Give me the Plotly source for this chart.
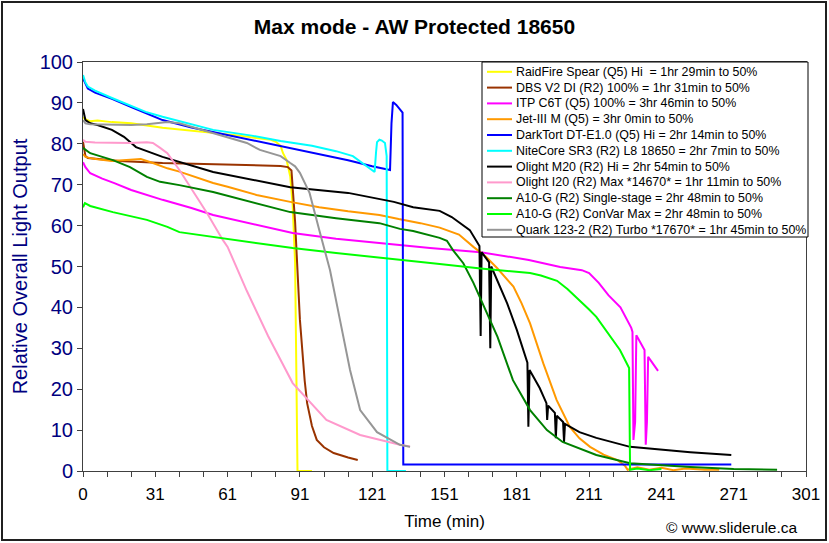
import plotly.graph_objects as go

# ---------------- data (minutes, relative output) ----------------
names = [
    "RaidFire Spear (Q5) Hi  = 1hr 29min to 50%",
    "DBS V2 DI (R2) 100% = 1hr 31min to 50%",
    "ITP C6T (Q5) 100% = 3hr 46min to 50%",
    "Jet-III M (Q5) = 3hr 0min to 50%",
    "DarkTort DT-E1.0 (Q5) Hi = 2hr 14min to 50%",
    "NiteCore SR3 (R2) L8 18650 = 2hr 7min to 50%",
    "Olight M20 (R2) Hi = 2hr 54min to 50%",
    "Olight I20 (R2) Max *14670* = 1hr 11min to 50%",
    "A10-G (R2) Single-stage = 2hr 48min to 50%",
    "A10-G (R2) ConVar Max = 2hr 48min to 50%",
    "Quark 123-2 (R2) Turbo *17670* = 1hr 45min to 50%",
]
colors = ["#FFFF00", "#993300", "#FF00FF", "#FF9900", "#0000FF", "#00FFFF",
          "#000000", "#FF99CC", "#008000", "#00FF00", "#969696"]

raidfire_t = [0, 1, 3, 6, 12, 20, 33, 45, 54, 65, 72, 78, 80, 82, 83, 84.5, 86, 87, 88, 88.5, 89, 95]
raidfire_y = [86.5, 86, 85.5, 85.7, 85.3, 85, 83.9, 83.2, 82.6, 82, 81.4, 81, 80.5, 79.5, 77.7, 76, 72, 65, 51, 25, 0, 0]

dbs_t = [0, 0.5, 1, 2, 5, 15, 33, 54, 70, 82, 85, 86.5, 88, 90, 92, 93, 95, 97, 100, 104, 110, 114]
dbs_y = [80.5, 79, 77, 76.5, 76.3, 75.8, 75.3, 75, 74.8, 74.6, 74.3, 73.5, 61, 37, 22, 16.6, 11, 7.6, 5.8, 4.4, 3.3, 2.7]

itp_t = [0, 1, 3, 8, 13, 20, 33, 45, 54, 70, 87, 105, 129, 144, 165, 185, 198, 207, 210, 214, 218, 223,
         227.5, 228, 228.4, 229.1, 229.6, 233, 233.5, 234, 234.5, 238.6]
itp_y = [75.5, 74.3, 72.8, 71.5, 70.4, 68.7, 66.3, 64.3, 62.6, 60.5, 58.2, 56.8, 55.3, 54.5, 53.5, 51.6, 49.9, 49.1, 48.4, 46, 43, 40,
         35, 34, 7.6, 12, 33.2, 29.6, 6.4, 12, 27.9, 24.5]

jet_t = [0, 1, 3, 6, 12, 18, 24, 29, 35, 40, 54, 60, 72, 86, 98, 110, 123, 131, 140, 148, 151, 156, 162, 167, 172,
         178.6, 182, 185.5, 191, 196.5, 202, 206, 210.4, 216, 222, 225, 226, 230, 235, 240, 245, 250, 258, 264]
jet_y = [77.5, 76.8, 76.5, 76.2, 75.8, 76, 76.3, 75.3, 74, 73.2, 70.4, 69.5, 67.5, 65.8, 64.5, 63.5, 62.6, 61.6, 60.6, 59.5, 58.9, 57.8, 54.8, 52.5, 49.5,
         45.1, 41, 36.1, 26.3, 17.4, 10.8, 8, 5.9, 4, 2.6, 1.2, 0.3, 0.9, 0.3, 0.8, 0.2, 0.6, 0.3, 0.3]

darktort_t = [0, 1, 2, 5, 12, 20, 26, 33, 45, 54, 70, 82, 95, 110, 120, 127.4, 128, 128.6, 130, 131.5, 132.6, 132.9, 150, 200, 269]
darktort_y = [96, 94.5, 93.5, 92.5, 91, 89, 87.5, 85.8, 84, 82.9, 81, 79.5, 78, 76, 74.5, 73.6, 85, 90.2, 89.5, 88.5, 87.6, 1.6, 1.6, 1.6, 1.6]

nitecore_t = [0, 1, 2, 5, 12, 20, 26, 33, 45, 54, 70, 82, 95, 105, 112, 116, 121, 121.6, 122, 123, 124, 125.3, 126, 126.3, 134]
nitecore_y = [96.8, 95, 94, 93, 91.2, 89.3, 87.8, 86.6, 84.7, 83.4, 82, 80.7, 79.5, 78.2, 77, 75.2, 73.1, 78, 80.4, 81, 80.8, 80.2, 77, 0, 0]

m20_t = [0, 1, 3, 6, 12, 17, 22, 33, 54, 72, 86, 110, 129, 137, 148, 153, 157, 160.5, 164.5, 165, 165.4, 168.5, 169, 169.4,
         176, 180, 184.4, 184.8, 185.3, 189.5, 192.3, 192.6, 193, 195.8, 196.2, 196.6, 199.2, 199.6, 200, 206, 213, 227, 252, 269]
m20_y = [88.5, 85.8, 85, 84.6, 83.4, 81.7, 79.2, 76.8, 73.1, 71.1, 69.4, 68, 65.8, 64.5, 63.6, 62.1, 60.5, 58.9, 55, 33, 53.5, 51, 30, 50,
         41, 34.5, 26.5, 10.8, 24.7, 20.3, 16.6, 12.5, 16, 14.2, 8, 13.5, 12, 7.1, 11.5, 9.5, 8.1, 5.9, 4.6, 3.9]

i20_t = [0, 1, 5, 12, 19.5, 26.5, 29, 32, 35, 40, 45.6, 51.5, 58, 60, 68, 73.4, 76.8, 87, 101, 115, 131.5, 135.7]
i20_y = [81, 80.5, 80.3, 80.2, 80.2, 80.4, 80.2, 79, 77.7, 73.6, 68.5, 63, 56.5, 54.8, 44, 37.5, 33, 21.5, 12.5, 8.8, 6.4, 6]

a10s_t = [0, 1, 3, 8, 12.4, 19.5, 26.5, 32, 40, 54, 72, 86, 105, 123, 131.5, 137, 148, 151, 153.5, 157.8, 162, 165,
          172, 178.4, 185.5, 192.5, 199, 213, 227, 252, 270, 288]
a10s_y = [79, 78.5, 77.7, 76.8, 76, 74.3, 71.9, 70.7, 69.9, 68.2, 65.5, 63.3, 61.8, 60.6, 59.2, 58.7, 57, 56.3, 54, 50.8, 46, 42,
          32.8, 22.2, 14.9, 10, 7.1, 3.9, 1.9, 1, 0.5, 0.3]

a10c_t = [0, 0.8, 3, 12.4, 26.5, 35, 40, 54, 68, 87, 105, 123, 131.5, 148, 165, 185.5, 190, 196.7, 201, 206, 210, 213,
          218.7, 222.8, 226.6, 227, 230, 235, 240]
a10c_y = [64.5, 65.5, 64.8, 63.3, 61.4, 59.7, 58.4, 57.2, 56, 54.5, 53.3, 52.1, 51.6, 50.6, 49.5, 48.4, 47.8, 46.5, 44.5, 41.8, 39.5, 37.7,
          32.8, 29.6, 25.2, 0.3, 0.6, 0.2, 0.5]

quark_t = [0, 1, 3, 12.4, 20, 26.5, 35, 40, 54, 68, 73.4, 82, 86, 88, 90, 94, 98, 102.5, 106.6, 110.8, 115, 122, 131.5, 135.7]
quark_y = [85.8, 85, 84.8, 84.6, 84.6, 84.8, 85.3, 85, 82.6, 80.2, 78.5, 77, 75.3, 74.5, 72.9, 68, 59, 49.1, 37, 24.7, 14.9, 9.5, 6.4, 5.9]

series_t = [raidfire_t, dbs_t, itp_t, jet_t, darktort_t, nitecore_t, m20_t, i20_t, a10s_t, a10c_t, quark_t]
series_y = [raidfire_y, dbs_y, itp_y, jet_y, darktort_y, nitecore_y, m20_y, i20_y, a10s_y, a10c_y, quark_y]

x_tickvals = [0, 30, 60, 90, 120, 150, 180, 210, 240, 270, 300]
x_ticktext = ["0", "31", "61", "91", "121", "151", "181", "211", "241", "271", "301"]

# ---------------- figure ----------------
FONT = "Arial, Liberation Sans, sans-serif"
L, R, T, B = 83, 23, 62, 72
W, H = 829, 543
pw, ph = W - L - R, H - T - B


def px_x(p):
    return (p - L) / pw


def px_y(p):
    return (H - B - p) / ph


fig = go.Figure()
for n, c, t, y in zip(names, colors, series_t, series_y):
    fig.add_trace(go.Scatter(x=t, y=y, mode="lines", name=n,
                             line=dict(color=c, width=2), showlegend=False))

fig.update_layout(
    width=W, height=H,
    margin=dict(l=L, r=R, t=T, b=B, autoexpand=False),
    paper_bgcolor="white", plot_bgcolor="white",
    font=dict(family=FONT, color="black"),
    title=dict(text="<b>Max mode - AW Protected 18650</b>", x=0.5, xref="container",
               y=1 - 27 / H, yref="container", xanchor="center", yanchor="middle",
               font=dict(size=21, color="black", family=FONT)),
    showlegend=False,
)
fig.update_xaxes(
    range=[0, 300], tickvals=x_tickvals, ticktext=x_ticktext,
    ticks="outside", ticklen=5, tickcolor="#404040", tickwidth=1,
    minor=dict(dtick=10, tick0=0, ticks="outside", ticklen=5, tickcolor="#404040"),
    showline=True, linecolor="#404040", linewidth=1, mirror=True,
    showgrid=False, zeroline=False, ticklabelstandoff=3,
    tickfont=dict(size=17, color="black", family=FONT),
    title=dict(text="Time (min)", font=dict(size=17, color="black", family=FONT), standoff=11),
)
fig.update_yaxes(
    range=[0, 100], dtick=10, tick0=0,
    ticks="outside", ticklen=5, tickcolor="#404040", tickwidth=1,
    showline=True, linecolor="#404040", linewidth=1, mirror=True,
    showgrid=False, zeroline=False,
    tickfont=dict(size=20, color="#000080", family=FONT),
    title=dict(text="Relative Overall Light Output", font=dict(size=20, color="#000080", family=FONT), standoff=6),
)

# legend box (drawn by hand for Excel-like compact row spacing)
fig.add_shape(type="rect", xref="paper", yref="paper",
              x0=px_x(482), x1=px_x(808), y0=px_y(237), y1=px_y(62),
              line=dict(color="black", width=1), fillcolor="white", layer="above")
for i, (n, c) in enumerate(zip(names, colors)):
    yc = 71.8 + i * 15.8
    fig.add_shape(type="line", xref="paper", yref="paper",
                  x0=px_x(487), x1=px_x(512), y0=px_y(yc), y1=px_y(yc),
                  line=dict(color=c, width=2), layer="above")
    fig.add_annotation(text=n, xref="paper", yref="paper", x=px_x(514), y=px_y(yc),
                       xanchor="left", yanchor="middle", showarrow=False,
                       font=dict(size=12.4, color="black", family=FONT))

fig.add_annotation(text="© www.sliderule.ca", xref="paper", yref="paper",
                   x=px_x(800), y=px_y(527), xanchor="right", yanchor="middle",
                   showarrow=False, font=dict(size=15.5, color="black", family=FONT))
fig.add_shape(type="rect", xref="paper", yref="paper",
              x0=px_x(2), x1=px_x(826), y0=px_y(540), y1=px_y(2),
              line=dict(color="#202020", width=2), fillcolor="rgba(0,0,0,0)", layer="above")

fig.write_html("out.html", config={"displayModeBar": False},
               post_script="document.body.style.margin='0';")
